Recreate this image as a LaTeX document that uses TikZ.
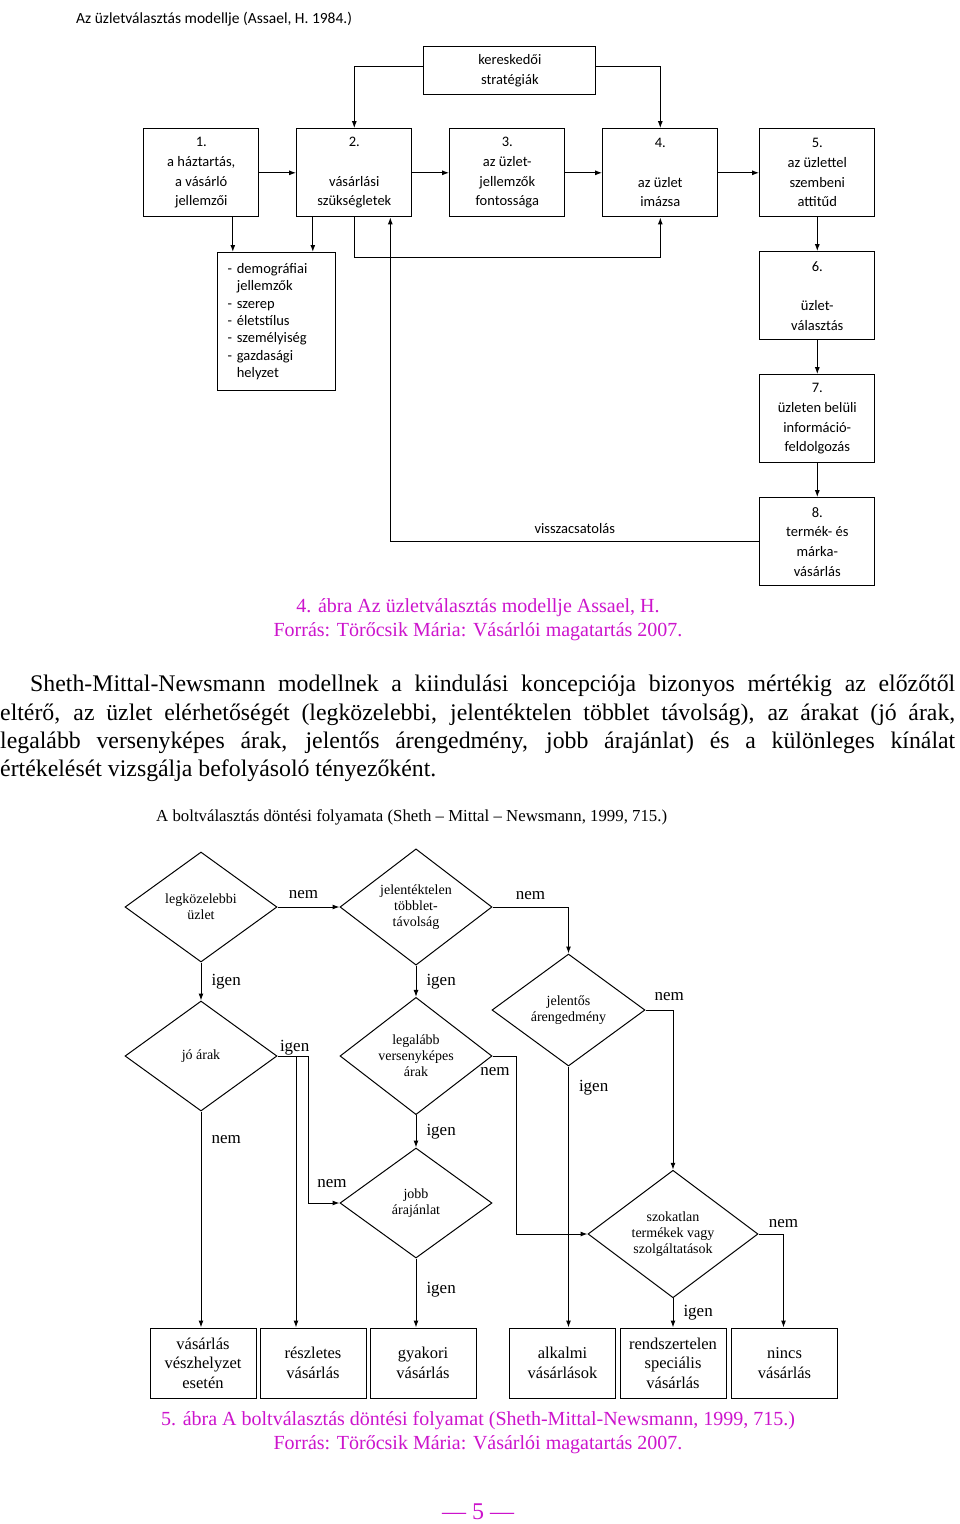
\documentclass[tikz,border=0pt]{standalone}
\usepackage{fontspec}
\setmainfont{Liberation Serif}
\newfontfamily\calib{Carlito}
\usetikzlibrary{matrix,arrows.meta,positioning,shapes.geometric}
\definecolor{capmag}{RGB}{204,20,204}

\begin{document}
\begin{tikzpicture}[x=1pt, y=-1pt, >={Latex[length=7pt,width=5pt]},
  mbox/.style={draw, line width=1.2pt, minimum width=115pt, minimum height=88pt,
    inner sep=0pt, align=center, font=\calib\fontsize{14.5}{19.7}\selectfont},
  dia/.style={draw, diamond, line width=1pt, minimum width=152pt, minimum height=110pt,
    inner sep=0pt, align=center, font=\fontsize{14}{16}\selectfont},
  endbox/.style={draw, line width=1pt, minimum width=106pt, minimum height=70pt,
    inner sep=0pt, align=center, font=\fontsize{16.5}{19.5}\selectfont},
  lbl/.style={font=\fontsize{17}{17}\selectfont, inner sep=2pt},
  capt/.style={text=capmag, font=\fontsize{20}{24}\selectfont, inner sep=0pt, anchor=base},
  partext/.style={font=\fontsize{23.8}{28}\selectfont, inner sep=0pt, anchor=base west}]
  \useasboundingbox (0,0) rectangle (960,1524);

  \node[anchor=base west, inner sep=0pt, font=\calib\fontsize{15.5}{18}\selectfont] (tit) at (76,23)
    {Az üzletválasztás modellje (Assael, H. 1984.)};
  \matrix (m) [anchor=north west, inner sep=0pt, row sep=33.8pt, column sep=36.8pt] at (143,128)
  {
\node[mbox] (hh) {1.\\a háztartás,\\a vásárló\\jellemzői}; &
\node[mbox] (szuk) {2.\\~\\vásárlási\\szükségletek}; &
\node[mbox] (fontos) {3.\\az üzlet-\\jellemzők\\fontossága}; &
\node[mbox] (imazs) {4.\\~\\az üzlet\\imázsa}; &[4pt]
\node[mbox] (attit) {5.\\az üzlettel\\szembeni\\attitűd}; \\
 & & & & \node[mbox] (valaszt) {6.\\~\\üzlet-\\választás}; \\
 & & & & \node[mbox] (info) {7.\\üzleten belüli\\információ-\\feldolgozás}; \\
 & & & & \node[mbox] (vasar) {8.\\termék- és\\márka-\\vásárlás}; \\
};
  \node[mbox, minimum width=172pt, minimum height=48pt, above=33pt of fontos, xshift=2.5pt] (ker)
    {kereskedői\\stratégiák};
  \node[draw, line width=1.2pt, anchor=north west, minimum height=138pt, text width=98pt,
    inner xsep=10pt, inner ysep=0pt, align=left, font=\calib\fontsize{14.5}{17.3}\selectfont] (dem) at (217,252)
    {- demográfiai\\\hphantom{- }jellemzők\\- szerep\\- életstílus\\- személyiség\\- gazdasági\\\hphantom{- }helyzet};

  \path[->, line width=1.2pt]
  (hh) edge (szuk)
  (szuk) edge (fontos)
  (fontos) edge (imazs)
  (imazs) edge (attit)
  (attit) edge (valaszt)
  (valaszt) edge (info)
  (info) edge (vasar)
  ([xshift=31.5pt]hh.south) edge ([xshift=31.5pt]hh.south |- dem.north)
  ([xshift=-41.5pt]szuk.south) edge ([xshift=-41.5pt]szuk.south |- dem.north);
  \draw[->, line width=1.2pt] ([yshift=4pt]ker.west) -| (szuk.north);
  \draw[->, line width=1.2pt] ([yshift=4pt]ker.east) -| (imazs.north);
  \draw[->, line width=1.2pt] (szuk.south) -- ++(0,40) -| (imazs.south);
  \draw[->, line width=0.9pt] (vasar.west) -| node[pos=0.25, above=4pt, font=\calib\fontsize{14.5}{17}\selectfont]
    {visszacsatolás} ([xshift=36pt]szuk.south);

  \node[capt] (cap4a) at (478,612) {4. ábra Az üzletválasztás modellje Assael, H.};
  \node[capt] (cap4b) at (478,636) {Forrás: Törőcsik Mária: Vásárlói magatartás 2007.};

  \node[partext] (p1) at (30,691)
    {\makebox[925pt][s]{Sheth-Mittal-Newsmann modellnek a kiindulási koncepciója bizonyos mértékig az előzőtől}};
  \node[partext] (p2) at (0,720)
    {\makebox[955pt][s]{eltérő, az üzlet elérhetőségét (legközelebbi, jelentéktelen többlet távolság), az árakat (jó árak,}};
  \node[partext] (p3) at (0,748)
    {\makebox[955pt][s]{legalább versenyképes árak, jelentős árengedmény, jobb árajánlat) és a különleges kínálat}};
  \node[partext] (p4) at (0,776) {értékelését vizsgálja befolyásoló tényezőként.};

  \node[anchor=base west, inner sep=0pt, font=\fontsize{16.8}{20}\selectfont] (ftit) at (156,821)
    {A boltválasztás döntési folyamata (Sheth – Mittal – Newsmann, 1999, 715.)};
  \node[dia] (legk) at (201,907) {legközelebbi\\üzlet};
  \node[dia] (jelt) at (416,907) {jelentéktelen\\többlet-\\távolság};
  \node[dia, minimum width=153pt, minimum height=112pt] (aren) at (568.5,1010) {jelentős\\árengedmény};
  \node[dia] (joar) at (201,1056) {jó árak};
  \node[dia] (legal) at (416,1056) {legalább\\versenyképes\\árak};
  \node[dia] (jobb) at (416,1203) {jobb\\árajánlat};
  \node[dia, minimum width=170pt, minimum height=118pt] (szok) at (673,1234)
    {szokatlan\\termékek vagy\\szolgáltatások};
  \node[endbox] (vesz) at (203,1363) {vásárlás\\vészhelyzet\\esetén};
  \node[endbox, right=3pt of vesz] (resz) {részletes\\vásárlás};
  \node[endbox, right=3pt of resz] (gyak) {gyakori\\vásárlás};
  \node[endbox, right=32.5pt of gyak] (alk) {alkalmi\\vásárlások};
  \node[endbox, right=3.5pt of alk] (rend) {rendszertelen\\speciális\\vásárlás};
  \node[endbox, right=4.5pt of rend] (nincs) {nincs\\vásárlás};

  \path[->, line width=1pt]
  (legk) edge node[lbl, above=6pt, xshift=-5pt] {nem} (jelt)
  (legk) edge node[lbl, right=8pt] {igen} (joar)
  (jelt) edge node[lbl, right=8pt] {igen} (legal)
  (legal) edge node[lbl, right=8pt] {igen} (jobb)
  (joar) edge node[lbl, pos=0.13, right=8pt] {nem} (joar.south |- vesz.north)
  (jobb) edge node[lbl, pos=0.45, right=8pt] {igen} (jobb.south |- gyak.north)
  (aren) edge node[lbl, pos=0.08, right=8pt] {igen} (aren.south |- alk.north)
  (szok) edge node[lbl, right=8pt] {igen} (szok.south |- rend.north);
  \draw[->, line width=1pt] (jelt.east) -| node[lbl, pos=0.25, above=5pt] {nem} (aren.north);
  \draw[->, line width=1pt] (aren.east) -| node[lbl, pos=0.25, above=7pt, xshift=10pt] {nem} (szok.north);
  \draw[->, line width=1pt] (szok.east) -| node[lbl, pos=0.5, above=4pt] {nem} ([xshift=-1pt]nincs.north);
  \draw[->, line width=1pt] (joar.east) -| node[lbl, at start, anchor=south west, inner sep=0pt, xshift=2pt] {igen}
    ([xshift=-17pt]resz.north);
  \draw[->, line width=1pt] (joar.east) -- ++(31,0) |- node[lbl, pos=0.75, above=13pt, xshift=8pt] {nem} (jobb.west);
  \draw[->, line width=1pt] (legal.east) -- node[lbl, pos=0.1, below=9pt] {nem} ++(24,0) |- (szok.west);

  \node[capt] (cap5a) at (478,1425) {5. ábra A boltválasztás döntési folyamat (Sheth-Mittal-Newsmann, 1999, 715.)};
  \node[capt] (cap5b) at (478,1449) {Forrás: Törőcsik Mária: Vásárlói magatartás 2007.};
  \node[capt, font=\fontsize{24}{28}\selectfont] (pnum) at (478,1519) {— 5 —};
\end{tikzpicture}
\end{document}
